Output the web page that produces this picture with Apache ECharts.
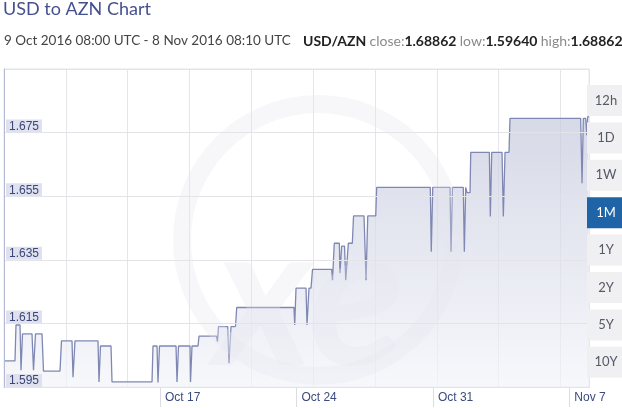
<!DOCTYPE html>
<html><head><meta charset="utf-8">
<script src="https://cdn.jsdelivr.net/npm/echarts@6/dist/echarts.min.js"></script>
<style>html,body{margin:0;padding:0;background:#fff}#c{width:622px;height:408px}</style>
</head><body><div id="c"></div>
<script>
// ---- data (UTC) ----
const times = [
 '2016-10-09 08:00','2016-10-09 21:32','2016-10-09 22:46','2016-10-10 03:42','2016-10-10 04:56','2016-10-10 06:47',
 '2016-10-10 18:28','2016-10-10 20:19','2016-10-10 22:47','2016-10-11 06:47','2016-10-11 08:38','2016-10-12 04:56',
 '2016-10-12 06:47','2016-10-12 19:43','2016-10-12 20:57','2016-10-12 23:25','2016-10-14 03:43','2016-10-14 04:57',
 '2016-10-14 06:48','2016-10-14 19:44','2016-10-14 20:58','2016-10-16 22:12','2016-10-16 23:26','2016-10-17 04:22',
 '2016-10-17 05:35','2016-10-17 07:26','2016-10-18 03:45','2016-10-18 04:59','2016-10-18 06:50','2016-10-18 20:59',
 '2016-10-18 21:36','2016-10-18 23:27','2016-10-19 06:50','2016-10-19 08:04','2016-10-20 05:36','2016-10-20 06:48',
 '2016-10-20 08:04','2016-10-20 19:24','2016-10-20 21:00','2016-10-20 23:28','2016-10-21 05:00','2016-10-21 06:29',
 '2016-10-24 05:00','2016-10-24 05:52','2016-10-24 07:29','2016-10-24 19:47','2016-10-24 21:01','2016-10-24 23:29',
 '2016-10-25 01:57','2016-10-25 03:48','2016-10-26 03:24','2016-10-26 04:24','2016-10-26 06:36','2016-10-26 12:48',
 '2016-10-26 13:36','2016-10-26 15:42','2016-10-26 19:12','2016-10-26 20:42','2016-10-26 23:54','2016-10-27 04:48',
 '2016-10-27 06:18','2016-10-27 19:12','2016-10-27 21:42','2016-10-27 23:48','2016-10-28 09:36','2016-10-28 10:48',
 '2016-10-31 04:48','2016-10-31 06:00','2016-10-31 07:48','2016-11-01 05:06','2016-11-01 06:18','2016-11-01 08:06',
 '2016-11-01 21:24','2016-11-01 22:42','2016-11-02 00:24','2016-11-02 02:00','2016-11-02 05:42','2016-11-02 06:36',
 '2016-11-03 05:30','2016-11-03 06:42','2016-11-03 08:24','2016-11-03 21:06','2016-11-03 22:42','2016-11-04 00:48',
 '2016-11-04 05:42','2016-11-04 06:54','2016-11-07 21:54','2016-11-07 23:36','2016-11-08 01:12','2016-11-08 04:06',
 '2016-11-08 05:24','2016-11-08 06:36','2016-11-08 08:10'
];
const rates = [
 1.6032,1.6032,1.6145,1.6145,1.6003,1.6117,
 1.6117,1.6003,1.6117,1.6117,1.6000,1.6000,
 1.6095,1.6095,1.5981,1.6095,1.6095,1.5966,
 1.6079,1.6079,1.5966,1.5966,1.6079,1.6079,
 1.5964,1.6079,1.6079,1.5966,1.6079,1.6079,
 1.5966,1.6079,1.6079,1.6110,1.6110,1.6093,
 1.6140,1.6140,1.6025,1.6140,1.6140,1.6200,
 1.6200,1.6145,1.6261,1.6261,1.6145,1.6261,
 1.6261,1.6320,1.6320,1.6286,1.6402,1.6402,
 1.6308,1.6393,1.6393,1.6286,1.6402,1.6402,
 1.6488,1.6488,1.6286,1.6488,1.6488,1.6578,
 1.6578,1.6375,1.6578,1.6578,1.6375,1.6578,
 1.6578,1.6375,1.6578,1.6561,1.6561,1.6688,
 1.6688,1.6486,1.6688,1.6688,1.6486,1.6688,
 1.6688,1.6795,1.6795,1.6591,1.6795,1.6795,
 1.6742,1.6800,1.6800
];
const startTime = '2016-10-09 08:00';
const endTime = '2016-11-08 08:10';
const xTickTimes = ['2016-10-17 08:00','2016-10-24 08:00','2016-10-31 08:00','2016-11-07 08:00'];
const xTickLabels = ['Oct 17','Oct 24','Oct 31','Nov 7'];
const yMin = 1.595, yMax = 1.695, yStep = 0.02;
const rangeButtons = ['12h','1D','1W','1M','1Y','2Y','5Y','10Y'];
const activeButton = '1M';
const titleText = 'USD to AZN Chart';
const periodText = '9 Oct 2016 08:00 UTC - 8 Nov 2016 08:10 UTC';
const pairText = 'USD/AZN';
const closeVal = '1.68862', lowVal = '1.59640', highVal = '1.68862';

function toMs(s){const [d,t]=s.split(' ');const [Y,M,D]=d.split('-').map(Number);const [h,m]=t.split(':').map(Number);return Date.UTC(Y,M-1,D,h,m);}
const seriesData = times.map((t,i)=>[toMs(t), rates[i]]);
const tickMs = xTickTimes.map(toMs);

const chart = echarts.init(document.getElementById('c'), null, {renderer:'canvas'});
const btnTop0 = 85, btnStep = 37.4, btnH = 31;
const buttons = [];
rangeButtons.forEach((b,i)=>{
  const active = b===activeButton;
  buttons.push({type:'rect', shape:{x:587,y:btnTop0+i*btnStep,width:35,height:btnH}, style:{fill:active?'#1e64a6':'#f0f0f2'}, z:10});
  buttons.push({type:'text', x:606, y:btnTop0+i*btnStep+btnH/2, style:{text:b, fill:active?'#ffffff':'#555a66', font:'13px Lato', align:'center', verticalAlign:'middle'}, z:11});
});
const wm = 'rgba(228,229,238,0.3)';
const watermark = [
  {type:'circle', shape:{cx:318, cy:240, r:136}, style:{fill:null, stroke:wm, lineWidth:18}, z:3, silent:true},
  {type:'text', x:310, y:300, style:{text:'xe', font:'italic bold 200px Lato', fill:wm, align:'center', verticalAlign:'middle'}, z:3, silent:true}
];

chart.setOption({
  animation:false,
  grid:{left:4, right:33, top:69, bottom:21, show:true, borderColor:'#e4e4e8', borderWidth:1},
  xAxis:[{
    type:'value', min:toMs(startTime), max:toMs(endTime),
    axisLine:{show:true, lineStyle:{color:'#c3c7db', width:1}},
    splitLine:{show:false},
    axisTick:{show:true, customValues:tickMs, length:20, inside:false, lineStyle:{color:'#dcdde3'}},
    axisLabel:{show:true, customValues:tickMs, formatter:v=>{const i=tickMs.indexOf(v);return i>=0?xTickLabels[i]:'';},
      align:'left', padding:[0,0,0,5], margin:5, color:'#3c4a80', fontSize:12, fontFamily:'Liberation Sans'}
  },{
    type:'value', min:0, max:9.46, interval:1, gridIndex:0,
    axisLine:{show:false}, axisTick:{show:false}, axisLabel:{show:false},
    splitLine:{show:true, lineStyle:{color:'#e6e6ea', width:1}}
  }],
  yAxis:{
    type:'value', min:yMin, max:yMax, interval:yStep,
    axisLine:{show:true, lineStyle:{color:'#b4b9d6', width:1}},
    axisTick:{show:false},
    splitLine:{show:true, lineStyle:{color:'#e4e4e8', width:1}},
    axisLabel:{inside:true, margin:2, showMaxLabel:false, verticalAlign:'bottom', formatter:v=>v.toFixed(3),
      backgroundColor:'#dfe1ee', padding:[1,3,0,3], color:'#3b4577', fontSize:12, fontFamily:'Liberation Sans'},
    z:5
  },
  series:[{
    type:'line', xAxisIndex:0, data:seriesData, symbol:'none', showSymbol:false,
    lineStyle:{color:'#7f88b3', width:1.3},
    areaStyle:{color:{type:'linear',x:0,y:0,x2:0,y2:1,colorStops:[{offset:0,color:'#c4c8dc'},{offset:1,color:'#f3f4f9'}]}},
    z:2
  }],
  graphic:[
    {type:'text', left:3, top:0, style:{text:titleText, font:'18px Lato', fill:'#45508f'}},
    {type:'text', x:4, y:41, style:{text:periodText, font:'13.5px Lato', fill:'#444', verticalAlign:'middle'}},
    {type:'text', x:303, y:41, style:{
      text:'{b|'+pairText+'} {g|close:}{b|'+closeVal+'} {g|low:}{b|'+lowVal+'} {g|high:}{b|'+highVal+'}',
      verticalAlign:'middle',
      rich:{b:{font:'bold 14px Lato', fill:'#222'}, g:{font:'14px Lato', fill:'#8a8a8a'}}
    }}
  ].concat(watermark).concat(buttons)
});
</script></body></html>
